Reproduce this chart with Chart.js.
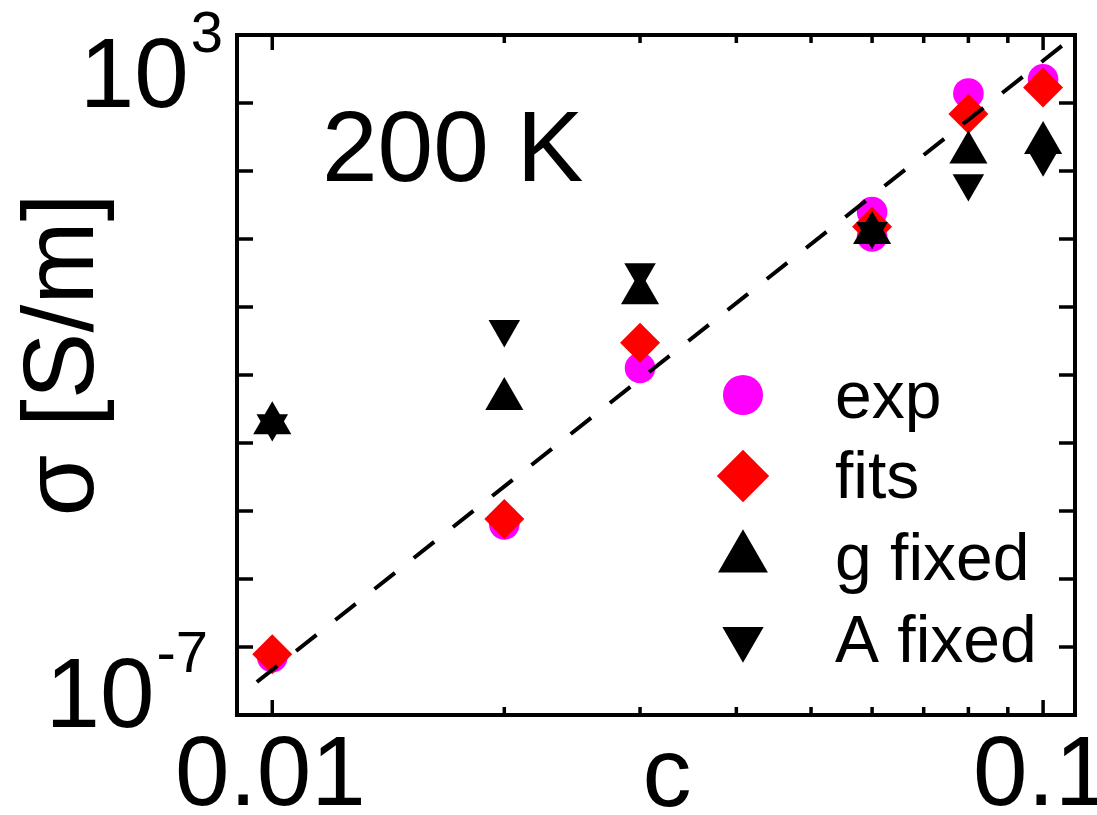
<!DOCTYPE html>
<html>
<head>
<meta charset="utf-8">
<title>σ vs c at 200 K</title>
<script src="https://cdn.jsdelivr.net/npm/chart.js@4.4.1/dist/chart.umd.min.js"></script>
<style>
  html, body { margin: 0; padding: 0; background: #fff; }
  canvas { display: block; }
</style>
</head>
<body>
<canvas id="sigmaChart" width="1097" height="815"></canvas>
<script>
// conductivity sigma [S/m] against concentration c, T = 200 K
const cExp = [0.01, 0.02, 0.03, 0.06, 0.06, 0.08, 0.1];
const sigmaExp = [6.8e-8, 1.01e-5, 3.62e-3, 1.28, 0.512, 111, 189];

const cFit = [0.01, 0.02, 0.03, 0.06, 0.08, 0.1];
const sigmaFits = [7.6e-8, 1.24e-5, 9.4e-3, 0.738, 51.2, 139];
const sigmaGFixed = [4.54e-4, 1.13e-3, 0.0601, 0.582, 12.0, 17.2];
const sigmaAFixed = [4.51e-4, 0.0156, 0.132, 0.627, 3.76, 9.59];

// power-law guide line (dashed)
const cLine = [0.00955, 0.1069];
const sigmaLine = [2.68e-8, 739];

// axis ticks
const xMajorTicks = [0.01, 0.1];
const xMajorLabels = ['0.01', '0.1'];
const xMinorTicks = [0.02, 0.03, 0.04, 0.05, 0.06, 0.07, 0.08, 0.09];
const yMin = Math.pow(10, -7 - 10 / 9);
const yMax = 1e3;
const yTickExponents = [3, 17 / 9, 7 / 9, -3 / 9, -13 / 9, -23 / 9, -33 / 9, -43 / 9, -53 / 9, -7, -73 / 9];
const yLabelValues = [1e3, 1e-7];
const yLabelSups = ['3', '-7'];

const FONT = "'Liberation Sans', Arial, sans-serif";

const pts = (xs, ys) => xs.map((x, i) => ({ x: x, y: ys[i] }));

function drawPow(ctx, right, baseline, base, sup) {
    ctx.font = '98px ' + FONT;
    const wb = ctx.measureText(base).width;
    ctx.font = '58px ' + FONT;
    const ws = ctx.measureText(sup).width;
    const left = right - wb - ws - 2;
    ctx.font = '98px ' + FONT;
    ctx.fillText(base, left, baseline);
    ctx.font = '58px ' + FONT;
    ctx.fillText(sup, left + wb + 2, baseline - 55);
}

// frame with inward ticks, tick labels and axis titles
const axesFrame = {
    id: 'axesFrame',
    afterDraw(chart) {
        const { ctx, chartArea: a, scales: { x, y } } = chart;
        ctx.save();
        ctx.strokeStyle = '#000';
        ctx.fillStyle = '#000';
        ctx.lineWidth = 3.5;
        ctx.beginPath();
        xMajorTicks.concat(xMinorTicks).forEach(v => {
            const px = x.getPixelForValue(v);
            const len = xMajorTicks.includes(v) ? 15 : 8;
            ctx.moveTo(px, a.bottom);
            ctx.lineTo(px, a.bottom - len);
            ctx.moveTo(px, a.top);
            ctx.lineTo(px, a.top + len);
        });
        yTickExponents.forEach(e => {
            const py = y.getPixelForValue(Math.pow(10, e));
            ctx.moveTo(a.left, py);
            ctx.lineTo(a.left + 16, py);
            ctx.moveTo(a.right, py);
            ctx.lineTo(a.right - 16, py);
        });
        ctx.stroke();
        ctx.lineWidth = 4;
        ctx.strokeRect(a.left, a.top, a.right - a.left, a.bottom - a.top);

        // x tick labels
        ctx.font = '98px ' + FONT;
        ctx.textAlign = 'center';
        ctx.textBaseline = 'alphabetic';
        xMajorTicks.forEach((v, i) => {
            ctx.fillText(xMajorLabels[i], x.getPixelForValue(v) - 2, a.bottom + 90);
        });
        ctx.fillText('c', 667, a.bottom + 91);

        // y tick labels as powers of ten
        ctx.textAlign = 'left';
        const yRight = [a.left - 14, a.left - 29];
        const yDrop = [72, 80];
        yLabelValues.forEach((v, i) => {
            drawPow(ctx, yRight[i], y.getPixelForValue(v) + yDrop[i], '10', yLabelSups[i]);
        });

        // y title
        ctx.save();
        ctx.translate(93, 355);
        ctx.rotate(-Math.PI / 2);
        ctx.textAlign = 'center';
        ctx.font = '100px ' + FONT;
        ctx.fillText('σ [S/m]', 0, 0);
        ctx.restore();

        // temperature
        ctx.font = '100px ' + FONT;
        ctx.textAlign = 'left';
        ctx.fillText('200 K', 322, 181);
        ctx.restore();
    }
};

// legend inside the plot, markers a bit larger than in the data
const innerLegend = {
    id: 'innerLegend',
    afterDraw(chart) {
        const ctx = chart.ctx;
        const names = ['exp', 'fits', 'g fixed', 'A fixed'];
        const markY = [395, 476, 558, 639];
        const textY = [418, 498, 580, 662];
        ctx.save();
        names.forEach((name, i) => {
            const ds = chart.data.datasets.find(d => d.label === name);
            ctx.fillStyle = ds.backgroundColor;
            Chart.helpers.drawPoint(ctx, {
                pointStyle: ds.pointStyle,
                rotation: ds.pointRotation || 0,
                radius: ds.pointRadius * 1.31,
                borderWidth: 0
            }, 743, markY[i]);
            ctx.fillStyle = '#000';
            ctx.font = '66px ' + FONT;
            ctx.textAlign = 'left';
            ctx.fillText(name, 835, textY[i]);
        });
        ctx.restore();
    }
};

const ctx = document.getElementById('sigmaChart').getContext('2d');
new Chart(ctx, {
    type: 'scatter',
    data: {
        datasets: [
            {
                label: 'guide',
                data: pts(cLine, sigmaLine),
                showLine: true,
                borderColor: '#000',
                borderWidth: 4,
                borderDash: [26, 24],
                pointRadius: 0,
                order: 0
            },
            {
                label: 'A fixed',
                data: pts(cFit, sigmaAFixed),
                pointStyle: 'triangle',
                pointRotation: 180,
                pointRadius: 18.2,
                backgroundColor: '#000000',
                pointBorderWidth: 0,
                order: 1
            },
            {
                label: 'g fixed',
                data: pts(cFit, sigmaGFixed),
                pointStyle: 'triangle',
                pointRadius: 22,
                backgroundColor: '#000000',
                pointBorderWidth: 0,
                order: 2
            },
            {
                label: 'fits',
                data: pts(cFit, sigmaFits),
                pointStyle: 'rectRot',
                pointRadius: 20,
                backgroundColor: '#ff0000',
                pointBorderWidth: 0,
                order: 3
            },
            {
                label: 'exp',
                data: pts(cExp, sigmaExp),
                pointStyle: 'circle',
                pointRadius: 15.3,
                backgroundColor: '#ff00ff',
                pointBorderWidth: 0,
                order: 4
            }
        ]
    },
    options: {
        responsive: false,
        animation: false,
        events: [],
        layout: { padding: { left: 237, right: 16, top: 35, bottom: 100 } },
        scales: {
            x: { type: 'logarithmic', min: 0.009, max: 0.11, display: false },
            y: { type: 'logarithmic', min: yMin, max: yMax, display: false }
        },
        plugins: {
            legend: { display: false },
            tooltip: { enabled: false }
        }
    },
    plugins: [axesFrame, innerLegend]
});
</script>
</body>
</html>
